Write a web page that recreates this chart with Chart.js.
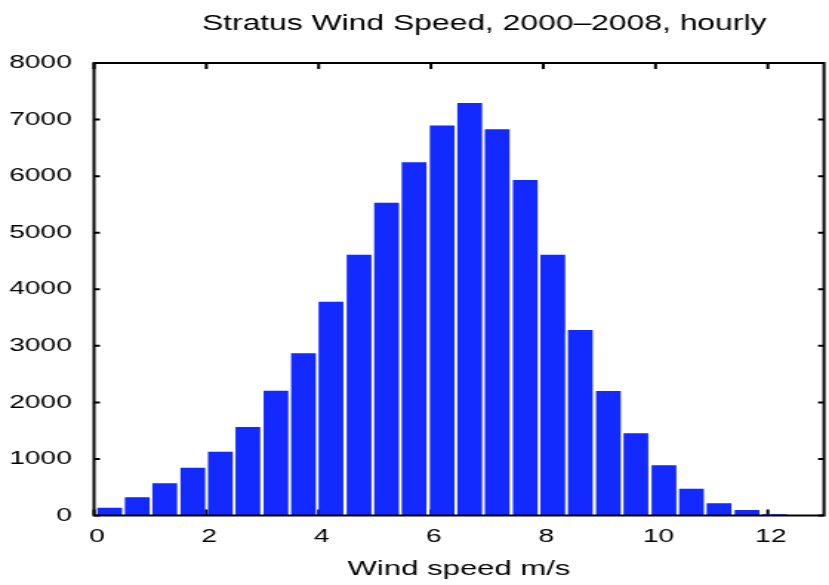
<!DOCTYPE html>
<html>
<head>
<meta charset="utf-8">
<script src="https://cdn.jsdelivr.net/npm/chart.js@4/dist/chart.umd.min.js"></script>
<style>
  html, body { margin: 0; padding: 0; background: #fff; overflow: hidden; }
  /* the figure is drawn at 560 wide and stretched out to the window width */
  #wrap { width: 560px; height: 585px; transform: scaleX(1.4804); transform-origin: 0 0; }
</style>
</head>
<body>
<div id="wrap"><canvas id="windChart" width="560" height="585"></canvas></div>
<script>
// histogram bins: centre of each bin (m/s) and hourly counts
let binCenters = [0.28, 0.77, 1.26, 1.76, 2.25, 2.74, 3.24, 3.73, 4.22, 4.72, 5.21, 5.70, 6.20,
                  6.69, 7.18, 7.68, 8.17, 8.66, 9.16, 9.65, 10.15, 10.64, 11.13, 11.63, 12.12];
let counts = [138, 322, 569, 845, 1128, 1565, 2207, 2868, 3781, 4612, 5531, 6246, 6893,
              7294, 6829, 5933, 4612, 3280, 2202, 1454, 888, 474, 216, 97, 20];

let xTicks = [0, 2, 4, 6, 8, 10, 12];
let yTicks = [0, 1000, 2000, 3000, 4000, 5000, 6000, 7000, 8000];

let titleText = "Stratus Wind Speed, 2000\u20132008, hourly";
let fontFamily = "'Liberation Sans', Arial, Helvetica, sans-serif";

// matlab style box: ticks pointing inwards on all four sides
let tickLen = { vert: 6, horiz: 4 };

let boxAxes = {
  id: "boxAxes",
  beforeDatasetsDraw(chart) {
    let ctx = chart.ctx;
    let a = chart.chartArea;
    let xs = chart.scales.x, ys = chart.scales.y;
    ctx.save();
    ctx.strokeStyle = "#000";
    ctx.lineWidth = 2;
    ctx.beginPath();
    xTicks.forEach(v => {
      let px = xs.getPixelForValue(v);
      ctx.moveTo(px, a.bottom); ctx.lineTo(px, a.bottom - tickLen.vert);
      ctx.moveTo(px, a.top); ctx.lineTo(px, a.top + tickLen.vert);
    });
    yTicks.forEach(v => {
      let py = ys.getPixelForValue(v);
      ctx.moveTo(a.left, py); ctx.lineTo(a.left + tickLen.horiz, py);
      ctx.moveTo(a.right, py); ctx.lineTo(a.right - tickLen.horiz, py);
    });
    ctx.stroke();
    ctx.restore();
  },
  afterDatasetsDraw(chart) {
    let ctx = chart.ctx;
    let a = chart.chartArea;
    ctx.save();
    ctx.strokeStyle = "#000";
    ctx.lineWidth = 2;
    ctx.strokeRect(a.left, a.top, a.right - a.left, a.bottom - a.top);

    // title sits a little right of the axes centre
    ctx.fillStyle = "#000";
    ctx.font = "21.5px " + fontFamily;
    ctx.textAlign = "center";
    ctx.textBaseline = "alphabetic";
    ctx.fillText(titleText, (a.left + a.right) / 2 + 17, 30);
    ctx.restore();
  }
};

let points = binCenters.map((c, i) => ({ x: c, y: counts[i] }));

new Chart(document.getElementById("windChart"), {
  type: "bar",
  data: {
    datasets: [{
      data: points,
      backgroundColor: "#1229ff",
      borderWidth: 0,
      categoryPercentage: 1,
      barPercentage: 0.9
    }]
  },
  options: {
    responsive: false,
    devicePixelRatio: 1,
    animation: false,
    layout: { padding: { left: 0, right: 3.4, top: 63, bottom: 0 } },
    plugins: {
      legend: { display: false },
      tooltip: { enabled: false },
      title: { display: false }
    },
    scales: {
      x: {
        type: "linear",
        min: 0,
        max: 13,
        offset: false,
        grid: { display: false, drawTicks: false },
        border: { display: false },
        afterBuildTicks: s => { s.ticks = xTicks.map(v => ({ value: v })); },
        afterFit: s => { s.height = 69.5; },
        ticks: {
          color: "#000",
          padding: 10,
          labelOffset: 2,
          maxRotation: 0,
          font: { family: fontFamily, size: 19 }
        },
        title: {
          display: true,
          text: "Wind speed m/s",
          color: "#000",
          padding: { top: 0, bottom: 3 },
          font: { family: fontFamily, size: 21 }
        }
      },
      y: {
        min: 0,
        max: 8000,
        grid: { display: false, drawTicks: false },
        border: { display: false },
        afterBuildTicks: s => { s.ticks = yTicks.map(v => ({ value: v })); },
        afterFit: s => { s.width = 63.5; },
        ticks: {
          color: "#000",
          padding: 15,
          font: { family: fontFamily, size: 19 },
          callback: v => String(v)
        }
      }
    }
  },
  plugins: [boxAxes]
});
</script>
</body>
</html>
